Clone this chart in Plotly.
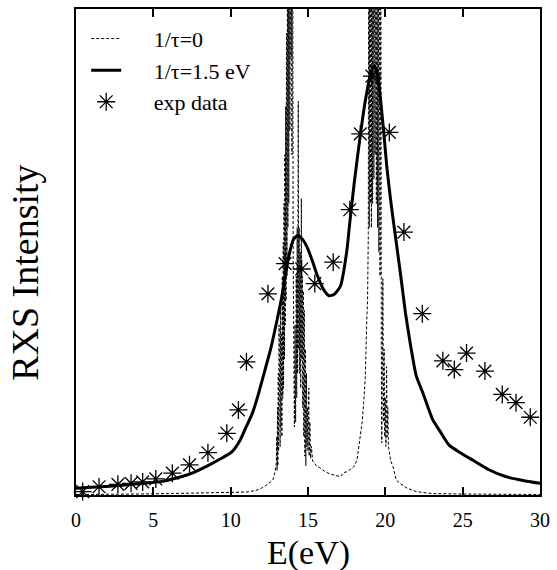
import plotly.graph_objects as go

# ---- data ----
# experimental data (E in eV, intensity in arbitrary units)
exp_x = [0.43, 1.49, 2.71, 3.56, 4.31, 5.16, 6.23, 7.34, 8.53, 9.75, 10.5,
         11.02, 12.41, 13.52, 14.59, 15.44, 16.63, 17.70, 18.38, 19.13, 20.26,
         21.2, 22.39, 23.72, 24.46, 25.25, 26.44, 27.56, 28.45, 29.37]
exp_y = [0.7, 1.7, 2.2, 2.4, 2.7, 3.3, 4.5, 6.2, 8.7, 12.7, 17.5,
         27.4, 41.4, 47.6, 46.5, 43.5, 47.9, 58.7, 74.3, 86.2, 74.6,
         54.1, 37.3, 27.6, 25.8, 29.2, 25.5, 20.7, 19.0, 16.0]

# 1/tau = 1.5 eV (broadened)
broad_x = [0, 1, 2.2, 3, 4, 5.37, 6.5, 7.5, 8.5, 9.2, 10.06, 10.6, 11.0, 11.4,
           11.77, 12.2, 12.62, 13.0, 13.26, 13.55, 13.8, 14.05, 14.33, 14.65,
           14.97, 15.3, 15.6, 16.0, 16.36, 16.7, 17.1, 17.5, 17.7, 18.0, 18.38,
           18.7, 19.0, 19.15, 19.3, 19.5, 19.67, 19.9, 20.1, 20.35, 20.62,
           21.0, 21.3, 21.58, 22.0, 22.44, 23.08, 23.5, 24.14, 24.9, 25.64,
           26.7, 27.77, 28.9, 30.0]
broad_y = [1.4, 1.6, 1.8, 2.0, 2.3, 2.7, 3.5, 4.5, 6.0, 7.2, 8.8, 11.2, 14.0, 16.8,
           20.5, 25.5, 30.5, 36.0, 40.0, 45.5, 49.7, 52.5, 53.4, 52.6,
           50.8, 48.0, 45.2, 42.3, 41.0, 41.3, 43.0, 50.0, 56.0, 64.5, 74.0,
           81.0, 86.0, 87.7, 88.3, 86.5, 82.0, 74.5, 67.4, 60.5, 54.0,
           45.0, 37.5, 31.8, 24.5, 20.9, 15.4, 13.3, 10.2, 8.6, 7.2,
           5.2, 3.8, 3.0, 2.4]

# 1/tau = 0 (unbroadened, spiky; values above 100 run off the top)
sharp_x = [0, 2, 4, 6, 8, 9, 10, 11, 11.6, 12.0, 12.3, 12.5, 12.73, 12.85, 12.95,
           12.98, 13.0, 13.03, 13.05, 13.08, 13.1, 13.13, 13.15, 13.18, 13.2,
           13.23, 13.26, 13.29, 13.31, 13.34, 13.37, 13.4, 13.42, 13.45, 13.48,
           13.5, 13.53, 13.56, 13.58, 13.61, 13.64, 13.67, 13.7, 13.73, 13.76,
           13.8, 13.83, 13.87, 13.9, 13.93, 13.96, 14.0, 14.04, 14.08, 14.12,
           14.16, 14.2, 14.24, 14.27, 14.3, 14.33, 14.37, 14.4, 14.43, 14.46,
           14.5, 14.53, 14.57, 14.6, 14.63, 14.66, 14.7, 14.73, 14.76, 14.8,
           14.83, 14.86, 14.9, 14.93, 14.97, 15.0, 15.05, 15.08, 15.12, 15.17,
           15.22, 15.3, 15.4, 15.55, 15.65, 15.82, 16.1, 16.46, 16.8, 17.1,
           17.3, 17.53, 17.7, 17.96, 18.17, 18.38, 18.5, 18.6, 18.7, 18.8,
           18.85, 18.9, 18.93, 18.96, 19.0, 19.03, 19.07, 19.1, 19.14, 19.18,
           19.22, 19.26, 19.3, 19.34, 19.38, 19.42, 19.46, 19.5, 19.54, 19.58,
           19.62, 19.66, 19.7, 19.74, 19.77, 19.8, 19.84, 19.88, 19.92, 19.96,
           20.0, 20.04, 20.08, 20.12, 20.16, 20.2, 20.25, 20.35, 20.5, 20.7,
           20.94, 21.4, 22.0, 23.0, 25.0, 30.0]
sharp_y = [0.1, 0.1, 0.2, 0.3, 0.4, 0.5, 0.5, 0.6, 0.9, 1.4, 2.0, 2.6, 3.1, 4.5, 6.5,
           12, 5, 18, 6, 25, 9, 35, 12, 30, 10,
           40, 14, 33, 12, 45, 20, 52, 22, 60, 28,
           70, 35, 80, 40, 95, 45, 110, 55, 130, 60,
           150, 75, 150, 90, 150, 70, 150, 50, 30, 14,
           35, 15, 45, 20, 55, 25, 81, 30, 55, 25,
           50, 22, 61, 28, 45, 18, 42, 12, 38, 8,
           30, 6, 25, 10, 18, 9, 22, 8, 15, 7.5,
           10, 7, 6.5, 6, 5.8, 5.5, 4.8, 4.3, 4.0, 3.8,
           4.6, 4.8, 5.2, 5.8, 7.2, 12, 15, 19, 24, 36,
           40, 54, 150, 55, 150, 60, 150, 55, 150, 60,
           150, 65, 150, 70, 150, 60, 150, 55, 150, 50,
           150, 45, 150, 30, 10.7, 25, 44.5, 15, 30, 12,
           20, 10, 26.4, 12, 18, 10, 9.2, 7, 5.8, 3.1,
           2.4, 1.4, 0.7, 0.3, 0.2, 0.1]

x_ticks = [0, 5, 10, 15, 20, 25, 30]

FONT = "Liberation Serif"
NB = "\u00a0"

fig = go.Figure()
fig.add_trace(go.Scatter(
    x=sharp_x, y=sharp_y, mode="lines", name=NB * 5 + "1/τ=0",
    line=dict(color="black", width=1, dash="3px,2px")))
fig.add_trace(go.Scatter(
    x=broad_x, y=broad_y, mode="lines", name=NB * 5 + "1/τ=1.5 eV",
    line=dict(color="black", width=3, shape="spline", smoothing=0.6)))
fig.add_trace(go.Scatter(
    x=exp_x, y=exp_y, mode="markers", name=NB * 5 + "exp data", cliponaxis=False,
    marker=dict(symbol="asterisk-open", size=15, color="black",
                line=dict(color="black", width=1.3))))

fig.update_layout(
    width=557, height=570,
    margin=dict(l=76, r=12, t=7, b=75),
    paper_bgcolor="white", plot_bgcolor="white",
    font=dict(family=FONT, color="black", size=20),
    showlegend=True,
    legend=dict(x=0.022, y=0.982, xanchor="left", yanchor="top",
                bgcolor="rgba(0,0,0,0)", font=dict(family=FONT, size=22),
                itemwidth=30, tracegroupgap=0),
    xaxis=dict(range=[0, 30], tickvals=x_ticks, ticktext=[str(v) for v in x_ticks],
               ticks="inside", ticklen=8, tickwidth=1.5, tickcolor="black",
               showline=True, linecolor="black", linewidth=2, mirror="allticks",
               showgrid=False, zeroline=False, ticklabelstandoff=6,
               tickfont=dict(family=FONT, size=20, color="black")),
    yaxis=dict(range=[0, 100], showticklabels=False, ticks="",
               showline=True, linecolor="black", linewidth=2, mirror=True,
               showgrid=False, zeroline=False),
    annotations=[
        dict(text="E(eV)", xref="paper", yref="paper", x=0.5, y=-0.12,
             xanchor="center", yanchor="middle", showarrow=False,
             font=dict(family=FONT, size=34, color="black")),
        dict(text="RXS Intensity", xref="paper", yref="paper", x=-0.109, y=0.458,
             xanchor="center", yanchor="middle", showarrow=False, textangle=-90,
             font=dict(family=FONT, size=38, color="black")),
    ],
)

fig.write_html(
    "out.html",
    config={"displayModeBar": False},
    post_script="document.body.style.margin='0';document.body.style.overflow='hidden';",
)
